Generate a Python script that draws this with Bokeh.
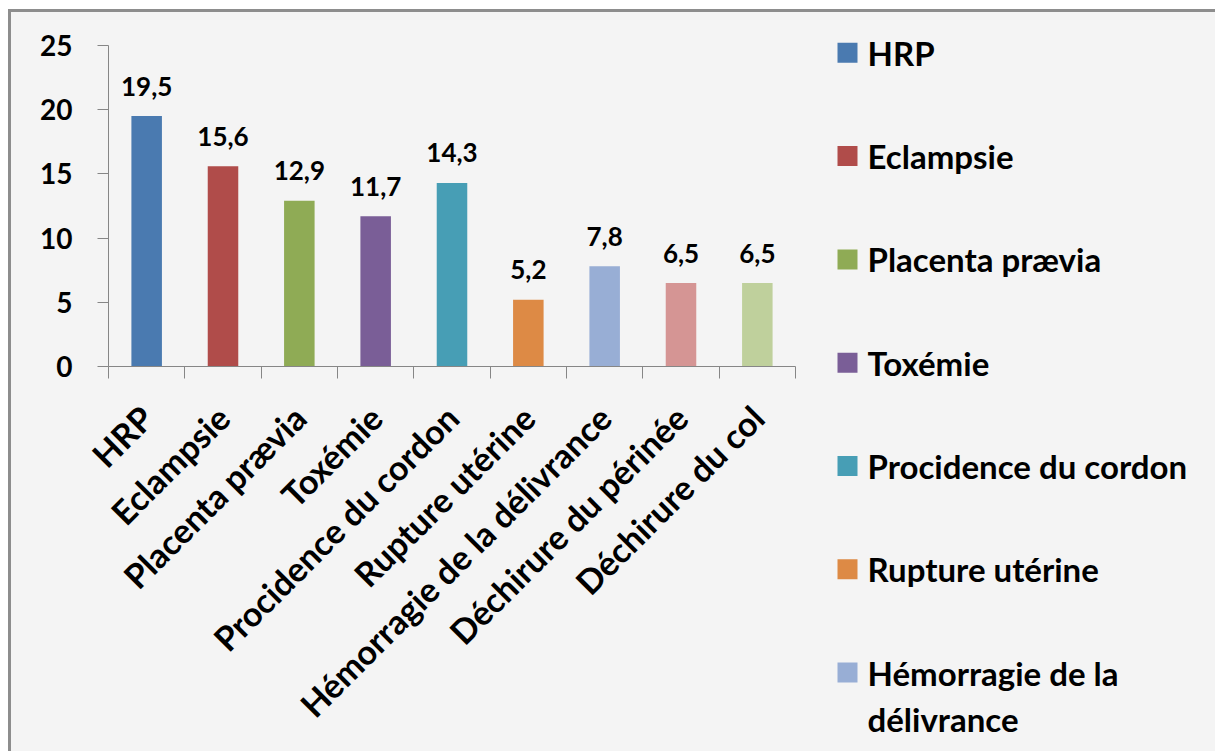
import math

from bokeh.core.properties import value
from bokeh.embed import file_html
from bokeh.layouts import column, row
from bokeh.models import ColumnDataSource, FixedTicker, Range1d
from bokeh.plotting import figure
from bokeh.resources import INLINE

# Obstetric complications, percentage of cases
categories = [
    "HRP",
    "Eclampsie",
    "Placenta prævia",
    "Toxémie",
    "Procidence du cordon",
    "Rupture utérine",
    "Hémorragie de la délivrance",
    "Déchirure du périnée",
    "Déchirure du col",
]
values = [19.5, 15.6, 12.9, 11.7, 14.3, 5.2, 7.8, 6.5, 6.5]
colors = [
    "#4a7ab0", "#b04c4a", "#8fab55", "#7a5e97", "#479eb5",
    "#dd8a45", "#98aed5", "#d59594", "#bfd09c",
]
y_ticks = [0, 5, 10, 15, 20, 25]
# the legend box only has room for the first seven entries
legend_labels = [
    "HRP",
    "Eclampsie",
    "Placenta prævia",
    "Toxémie",
    "Procidence du cordon",
    "Rupture utérine",
    "Hémorragie de la\ndélivrance",
]

FONT = "Lato"
AXIS_GREY = "#868686"
BG = "#f4f4f4"

centers = [i + 0.5 for i in range(len(categories))]
bounds = list(range(len(categories) + 1))
value_text = [f"{v:.1f}".replace(".", ",") for v in values]

source = ColumnDataSource(dict(x=centers, top=values, color=colors, label=value_text))

# ---- chart panel ----
p = figure(
    frame_width=687,
    frame_height=321,
    min_border_left=97,
    min_border_top=33,
    min_border_right=34,
    min_border_bottom=385,
    x_range=Range1d(0, len(categories)),
    y_range=Range1d(0, 25),
    output_backend="svg",
    toolbar_location=None,
    background_fill_color=BG,
    border_fill_color=BG,
    outline_line_color=None,
)

p.vbar(x="x", top="top", width=0.4, bottom=0, source=source,
       fill_color="color", line_color=None)

p.text(x="x", y="top", text="label", source=source,
       text_align="center", text_baseline="alphabetic", y_offset=-30,
       text_font=value(FONT), text_font_style="bold", text_font_size="26px",
       text_color="black")

p.xgrid.grid_line_color = None
p.ygrid.grid_line_color = None

# x axis: category names under the bars, tick marks between categories
xa = p.xaxis[0]
xa.ticker = FixedTicker(ticks=centers, minor_ticks=bounds)
xa.major_label_overrides = {c: name for c, name in zip(centers, categories)}
xa.axis_line_color = AXIS_GREY
xa.major_tick_line_color = None
xa.major_tick_out = 0
xa.major_tick_in = 0
xa.minor_tick_line_color = AXIS_GREY
xa.minor_tick_out = 12
xa.minor_tick_in = 0
xa.major_label_orientation = math.pi / 4
xa.major_label_standoff = 33
xa.major_label_text_font = FONT
xa.major_label_text_font_style = "bold"
xa.major_label_text_font_size = "34px"
xa.major_label_text_color = "black"

ya = p.yaxis[0]
ya.ticker = FixedTicker(ticks=y_ticks, minor_ticks=[])
ya.axis_line_color = AXIS_GREY
ya.major_tick_line_color = AXIS_GREY
ya.major_tick_out = 11
ya.major_tick_in = 0
ya.minor_tick_line_color = None
ya.major_label_standoff = 25
ya.major_label_text_font = FONT
ya.major_label_text_font_style = "bold"
ya.major_label_text_font_size = "28px"
ya.major_label_text_color = "black"

# ---- legend panel: one row per entry, rows counted from the top ----
LEG_W = 386
LEG_H = 739
ROW_PITCH = 103.3      # px between legend rows
FIRST_ROW = 40.3       # px from the top to the centre of the first row

lp = figure(
    frame_width=LEG_W,
    frame_height=LEG_H,
    x_range=Range1d(0, LEG_W),
    y_range=Range1d((LEG_H - FIRST_ROW) / ROW_PITCH, -FIRST_ROW / ROW_PITCH),
    x_axis_location=None,
    y_axis_location=None,
    min_border=0,
    output_backend="svg",
    toolbar_location=None,
    background_fill_color=BG,
    border_fill_color=BG,
    outline_line_color=None,
)
lp.xgrid.grid_line_color = None
lp.ygrid.grid_line_color = None

n_leg = len(legend_labels)
leg_src = ColumnDataSource(dict(
    row=list(range(n_leg)),
    color=colors[:n_leg],
    label=legend_labels,
))
lp.scatter(x=18, y="row", source=leg_src, marker="square", size=20,
           fill_color="color", line_color=None)
lp.text(x=38, y="row", text="label", source=leg_src,
        text_align="left", text_baseline="top", y_offset=-20,
        text_line_height=1.15,
        text_font=value(FONT), text_font_style="bold", text_font_size="33px",
        text_color="black")

panel_style = {"background-color": BG}
layout = row(column(p, styles=panel_style), column(lp, styles=panel_style), spacing=0)
layout.styles = {
    "margin-left": "8px",
    "margin-top": "9px",
    "border-left": "3px solid #8d8d8d",
    "border-top": "3px solid #8d8d8d",
    "background-color": BG,
}

open("out.html", "w").write(file_html(layout, INLINE))
